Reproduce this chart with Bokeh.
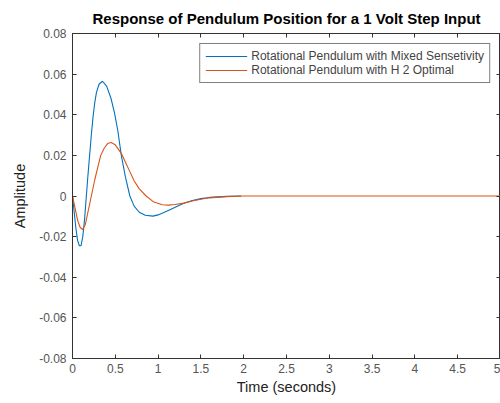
from bokeh.plotting import figure
from bokeh.models import (LinearAxis, FixedTicker, CustomJSTickFormatter, Range1d,
                          Legend, LegendItem, Title)
from bokeh.embed import file_html
from bokeh.resources import INLINE

# Data
t_mixed = [0.0, 0.02, 0.04, 0.06, 0.08, 0.10, 0.12, 0.14, 0.16, 0.18, 0.20, 0.22,
           0.24, 0.26, 0.28, 0.31, 0.35, 0.40, 0.45, 0.49, 0.53, 0.57, 0.62, 0.67,
           0.72, 0.78, 0.85, 0.94, 1.0, 1.1, 1.2, 1.3, 1.4, 1.5, 1.6, 1.8, 1.97]
y_mixed = [0.0, -0.008, -0.016, -0.022, -0.0245, -0.0245, -0.020, -0.012, -0.001, 0.010,
           0.020, 0.030, 0.039, 0.046, 0.051, 0.055, 0.0565, 0.054, 0.048, 0.041,
           0.032, 0.020, 0.009, 0.0, -0.005, -0.008, -0.0095, -0.0099, -0.0093,
           -0.0075, -0.0055, -0.0036, -0.0022, -0.0013, -0.0007, -0.0002, 0.0]

t_h2 = [0.0, 0.03, 0.06, 0.09, 0.12, 0.15, 0.18, 0.22, 0.26, 0.30, 0.33, 0.37, 0.41,
        0.45, 0.50, 0.57, 0.62, 0.67, 0.72, 0.78, 0.86, 0.95, 1.05, 1.12, 1.2, 1.3,
        1.4, 1.5, 1.6, 1.8, 2.0, 3.0, 4.0, 5.0]
y_h2 = [0.0, -0.006, -0.012, -0.0155, -0.0165, -0.014, -0.008, 0.0, 0.008, 0.015,
        0.020, 0.0235, 0.0258, 0.0263, 0.0252, 0.021, 0.0165, 0.012, 0.0075, 0.0035,
        0.0, -0.003, -0.0043, -0.0045, -0.0042, -0.0035, -0.0025, -0.0016, -0.0009,
        -0.0003, 0.0, 0.0, 0.0, 0.0]

x_ticks = [0, 0.5, 1, 1.5, 2, 2.5, 3, 3.5, 4, 4.5, 5]
y_ticks = [-0.08, -0.06, -0.04, -0.02, 0, 0.02, 0.04, 0.06, 0.08]

FONT = "Liberation Sans"
TICK_COLOR = "#555555"

p = figure(output_backend="svg", toolbar_location=None,
           frame_width=428, frame_height=325,
           min_border_left=72, min_border_right=0, min_border_top=33, min_border_bottom=40,
           x_range=Range1d(0, 5), y_range=Range1d(-0.08, 0.08),
           x_axis_location=None, y_axis_location=None)
p.background_fill_color = "white"
p.border_fill_color = "white"
p.outline_line_color = "#333333"
p.outline_line_width = 1
p.grid.visible = False

p.title = Title(text="Response of Pendulum Position for a 1 Volt Step Input",
                text_font=FONT, text_font_size="15px", text_font_style="bold",
                align="center", text_color="#000000", offset=0, standoff=13)

xfmt = CustomJSTickFormatter(code="return String(Math.round(tick*10)/10);")
yfmt = CustomJSTickFormatter(code="return Math.abs(tick) < 1e-9 ? '0' : tick.toFixed(2);")

def style(ax, labels=True):
    ax.major_tick_in = 4
    ax.major_tick_out = 0
    ax.minor_tick_in = 0
    ax.minor_tick_out = 0
    ax.axis_line_color = "#333333"
    ax.major_tick_line_color = "#333333"
    ax.major_label_text_font = FONT
    ax.major_label_text_font_size = "12px"
    ax.major_label_text_color = TICK_COLOR
    ax.axis_label_text_font = FONT
    ax.axis_label_text_font_size = "14.5px"
    ax.axis_label_text_font_style = "normal"
    ax.axis_label_text_color = "#222222"
    if not labels:
        ax.major_label_text_font_size = "0px"
        ax.major_label_text_alpha = 0

xb = LinearAxis(ticker=FixedTicker(ticks=x_ticks), formatter=xfmt, axis_label="Time (seconds)")
style(xb)
xb.major_label_standoff = 5
xb.axis_label_standoff = 3
p.add_layout(xb, "below")

xa = LinearAxis(ticker=FixedTicker(ticks=x_ticks), formatter=xfmt)
style(xa, labels=False)
p.add_layout(xa, "above")

yl = LinearAxis(ticker=FixedTicker(ticks=y_ticks), formatter=yfmt, axis_label="Amplitude")
style(yl)
yl.major_label_standoff = 6
yl.axis_label_standoff = 8
p.add_layout(yl, "left")

yr = LinearAxis(ticker=FixedTicker(ticks=y_ticks), formatter=yfmt)
style(yr, labels=False)
p.add_layout(yr, "right")

r1 = p.line(t_mixed, y_mixed, line_color="#0072BD", line_width=1.1)
r2 = p.line(t_h2, y_h2, line_color="#D95319", line_width=1.1)

legend = Legend(items=[LegendItem(label="Rotational Pendulum with Mixed Sensetivity", renderers=[r1]),
                       LegendItem(label="Rotational Pendulum with H 2 Optimal", renderers=[r2])],
                location="top_right")
legend.margin = 10
legend.padding = 5
legend.spacing = 0
legend.label_text_font = FONT
legend.label_text_font_size = "12px"
legend.label_height = 12
legend.glyph_height = 12
legend.glyph_width = 42
legend.label_standoff = 4
legend.border_line_color = "#000000"
legend.border_line_width = 1
legend.background_fill_alpha = 1
p.add_layout(legend, "center")

open("out.html", "w").write(file_html(p, INLINE))
